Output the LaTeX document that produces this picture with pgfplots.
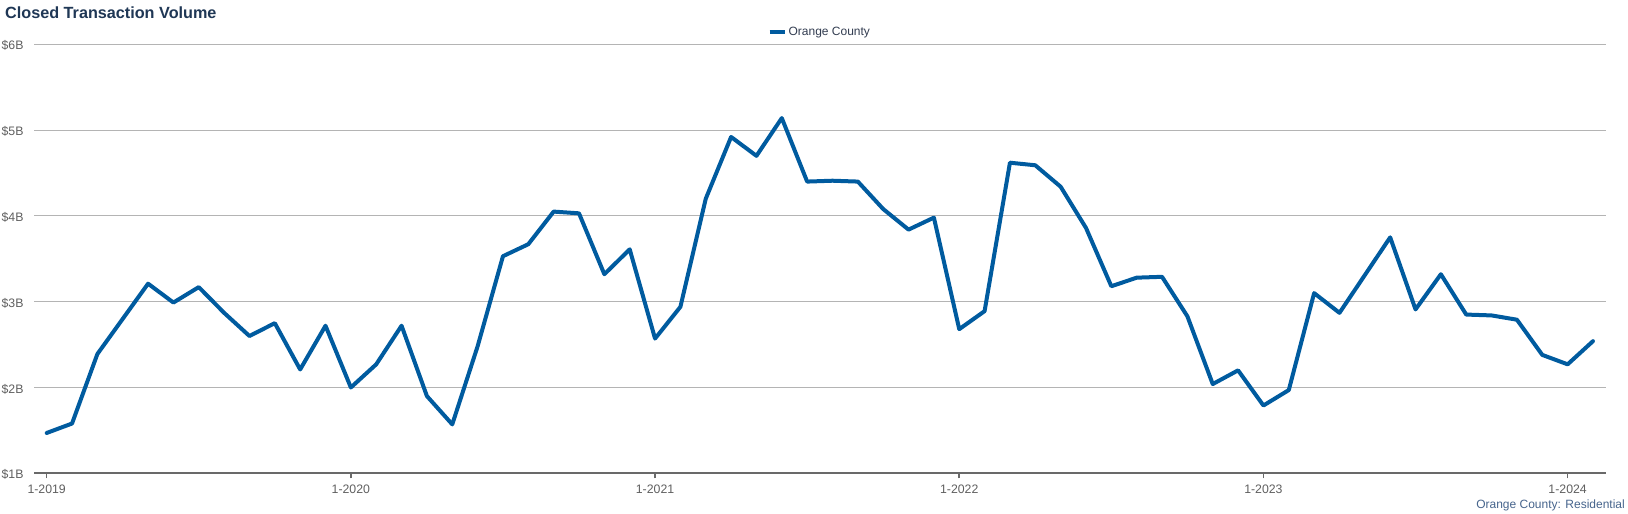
\documentclass[border=0pt]{standalone}
\usepackage{pgfplots}
\pgfplotsset{compat=1.18}
\usepackage{fontspec}
\setmainfont{Liberation Sans}
\definecolor{linecol}{RGB}{0,91,159}
\definecolor{titlecol}{RGB}{31,55,85}
\definecolor{tickcol}{RGB}{95,95,95}
\definecolor{gridcol}{RGB}{180,180,180}
\definecolor{axiscol}{RGB}{105,105,105}
\definecolor{legcol}{RGB}{50,60,80}
\definecolor{footcol}{RGB}{70,100,140}
\begin{document}
\begin{tikzpicture}
\path[use as bounding box] (0,0) rectangle (1628bp,514bp);
\node[anchor=base west, text=titlecol, font=\fontsize{16.2bp}{18bp}\selectfont\bfseries, inner sep=0pt] at (5bp,495.5bp) {Closed Transaction Volume};
\node[anchor=base east, text=footcol, font=\fontsize{12bp}{14bp}\selectfont, inner sep=0pt] at (1625bp,6bp) {Orange County: Residential};
\begin{axis}[
  at={(34bp,40.7bp)}, anchor=south west,
  scale only axis, width=1571.7bp, height=429bp,
  xmin=-0.5, xmax=61.5, ymin=1, ymax=6,
  axis x line*=bottom, axis y line*=left,
  x axis line style={draw=axiscol, line width=2bp, -},
  y axis line style={draw=none},
  xtick={0,12,24,36,48,60},
  xticklabels={1-2019,1-2020,1-2021,1-2022,1-2023,1-2024},
  ytick={1,2,3,4,5,6},
  yticklabels={\$1B,\$2B,\$3B,\$4B,\$5B,\$6B},
  /pgf/number format/assume math mode=true,
  tick label style={font=\fontsize{12.3bp}{14bp}\selectfont, text=tickcol},
  xticklabel style={yshift=-3.5bp},
  yticklabel style={anchor=east, xshift=-2bp, yshift=-1.5bp},
  tick align=outside,
  xtick style={draw=axiscol, line width=1.5bp},
  major tick length=5bp,
  ytick style={draw=none},
  ymajorgrids, grid style={draw=gridcol, line width=1bp},
  legend style={at={(0.5,1)}, anchor=center, yshift=12.3bp, draw=none, fill=none,
    font=\fontsize{12bp}{14bp}\selectfont, text=legcol, inner sep=0pt},
  legend image code/.code={\draw[#1, line width=4bp, line cap=butt] (0bp,0bp) -- (15bp,0bp);},
]
\addplot[color=linecol, line width=4bp, line join=round, line cap=round, mark=none] coordinates {
(0,1.47) (1,1.58) (2,2.39) (3,2.80) (4,3.21) (5,2.99) (6,3.17) (7,2.87) (8,2.60) (9,2.75)
(10,2.21) (11,2.72) (12,2.00) (13,2.27) (14,2.72) (15,1.90) (16,1.57) (17,2.48) (18,3.53) (19,3.67)
(20,4.05) (21,4.03) (22,3.32) (23,3.61) (24,2.57) (25,2.94) (26,4.20) (27,4.92) (28,4.70) (29,5.14)
(30,4.40) (31,4.41) (32,4.40) (33,4.08) (34,3.84) (35,3.98) (36,2.68) (37,2.89) (38,4.62) (39,4.59)
(40,4.34) (41,3.86) (42,3.18) (43,3.28) (44,3.29) (45,2.83) (46,2.04) (47,2.20) (48,1.79) (49,1.97)
(50,3.10) (51,2.87) (52,3.31) (53,3.75) (54,2.91) (55,3.32) (56,2.85) (57,2.84) (58,2.79) (59,2.38)
(60,2.27) (61,2.54)
};
\addlegendentry{Orange County}
\end{axis}
\end{tikzpicture}
\end{document}
